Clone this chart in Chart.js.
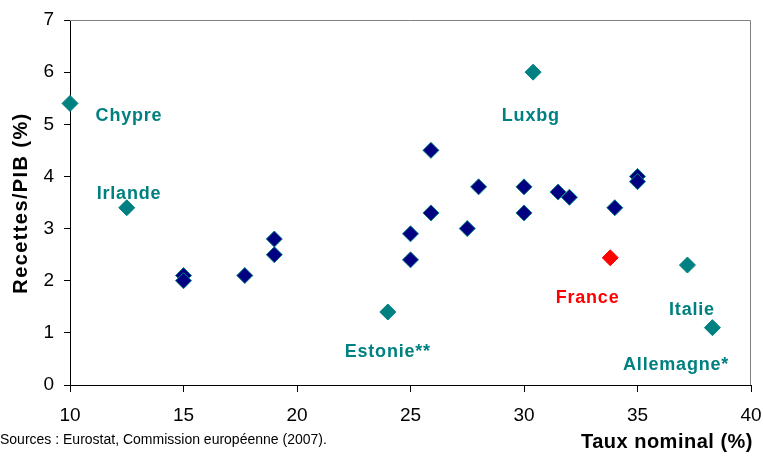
<!DOCTYPE html>
<html>
<head>
<meta charset="utf-8">
<script src="https://cdn.jsdelivr.net/npm/chart.js@4"></script>
<style>
  html, body { margin: 0; padding: 0; background: #fff; }
  #wrap { width: 763px; height: 458px; }
</style>
</head>
<body>
<div id="wrap"><canvas id="scatter" width="763" height="458"></canvas></div>
<script>
// EU countries (unlabelled), nominal rate vs receipts/GDP
var euX = [15, 15, 17.7, 19, 19, 25, 25, 25.9, 25.9, 27.5, 28, 30, 30, 31.5, 32, 34, 35, 35];
var euY = [2.1, 2.0, 2.1, 2.8, 2.5, 2.9, 2.4, 4.5, 3.3, 3.0, 3.8, 3.8, 3.3, 3.7, 3.6, 3.4, 4.0, 3.9];

// labelled countries
var namedCountries = ['Chypre', 'Irlande', 'Luxbg', 'Estonie**', 'Italie', 'Allemagne*'];
var namedX = [10, 12.5, 30.4, 24, 37.2, 38.3];
var namedY = [5.4, 3.4, 6.0, 1.4, 2.3, 1.1];
var namedLabelX = [12.6, 12.6, 30.3, 24.0, 37.4, 36.7];
var namedLabelY = [5.16, 3.67, 5.16, 0.63, 1.44, 0.38];

var franceX = 33.8, franceY = 2.44;
var franceLabelX = 32.8, franceLabelY = 1.67;

var xTicks = [10, 15, 20, 25, 30, 35, 40];
var yTicks = [0, 1, 2, 3, 4, 5, 6, 7];

var teal = '#008080';
var navy = '#000080';
var fontFam = '"Liberation Sans", Arial, sans-serif';

function pts(xs, ys) {
    return xs.map(function (x, i) { return { x: x, y: ys[i] }; });
}

const textPlugin = {
    id: 'texts',
    afterDraw(chart) {
        const ctx = chart.ctx;
        const a = chart.chartArea;
        const sx = chart.scales.x, sy = chart.scales.y;
        ctx.save();
        // top and right frame
        ctx.strokeStyle = '#808080';
        ctx.lineWidth = 1;
        ctx.beginPath();
        ctx.moveTo(a.left, a.top + 0.5);
        ctx.lineTo(a.right - 0.5, a.top + 0.5);
        ctx.lineTo(a.right - 0.5, a.bottom);
        ctx.stroke();

        ctx.textAlign = 'center';
        ctx.textBaseline = 'middle';
        ctx.font = 'bold 18px ' + fontFam;
        ctx.letterSpacing = '0.8px';
        ctx.fillStyle = teal;
        for (let i = 0; i < namedCountries.length; i++) {
            ctx.fillText(namedCountries[i], sx.getPixelForValue(namedLabelX[i]), sy.getPixelForValue(namedLabelY[i]));
        }
        ctx.fillStyle = '#ff0000';
        ctx.fillText('France', sx.getPixelForValue(franceLabelX), sy.getPixelForValue(franceLabelY));

        // axis titles
        ctx.fillStyle = '#000';
        ctx.font = 'bold 20px ' + fontFam;
        ctx.letterSpacing = '0.5px';
        ctx.textAlign = 'right';
        ctx.fillText('Taux nominal (%)', 753, 442);
        ctx.save();
        ctx.translate(21, 203);
        ctx.rotate(-Math.PI / 2);
        ctx.textAlign = 'center';
        ctx.letterSpacing = '1.4px';
        ctx.fillText('Recettes/PIB (%)', 0, 0);
        ctx.restore();

        ctx.letterSpacing = '0px';
        ctx.font = '14px ' + fontFam;
        ctx.textAlign = 'left';
        ctx.fillText('Sources : Eurostat, Commission européenne (2007).', 0, 440);
        ctx.restore();
    }
};

new Chart(document.getElementById('scatter'), {
    type: 'scatter',
    data: {
        datasets: [
            {
                label: 'UE',
                data: pts(euX, euY),
                pointStyle: 'rectRot',
                radius: 8,
                backgroundColor: navy,
                borderColor: teal,
                borderWidth: 1,
                clip: false,
            },
            {
                label: 'named',
                data: pts(namedX, namedY),
                pointStyle: 'rectRot',
                radius: 8,
                backgroundColor: teal,
                borderColor: teal,
                borderWidth: 1,
                clip: false,
            },
            {
                label: 'France',
                data: [{ x: franceX, y: franceY }],
                pointStyle: 'rectRot',
                radius: 8,
                backgroundColor: '#ff0000',
                borderColor: '#ff0000',
                borderWidth: 1,
                clip: false,
            },
        ]
    },
    options: {
        responsive: false,
        animation: false,
        layout: { padding: { top: 20, right: 12, left: 0, bottom: 0 } },
        plugins: {
            legend: { display: false },
            tooltip: { enabled: false },
        },
        scales: {
            x: {
                type: 'linear',
                min: 10,
                max: 40,
                afterBuildTicks: function (s) { s.ticks = xTicks.map(function (v) { return { value: v }; }); },
                afterFit: function (s) { s.height = 73; s.paddingLeft = 0; s.paddingRight = 0; },
                grid: { drawOnChartArea: false, color: '#000', tickLength: 7, tickColor: '#000' },
                border: { color: '#000', width: 1 },
                ticks: { color: '#000', padding: 12, maxRotation: 0, font: { family: fontFam, size: 19 } },
            },
            y: {
                type: 'linear',
                min: 0,
                max: 7,
                afterBuildTicks: function (s) { s.ticks = yTicks.map(function (v) { return { value: v }; }); },
                afterFit: function (s) { s.width = 70; s.paddingTop = 0; s.paddingBottom = 0; },
                grid: { drawOnChartArea: false, color: '#000', tickLength: 6, tickColor: '#000' },
                border: { color: '#000', width: 1 },
                ticks: { color: '#000', padding: 10, font: { family: fontFam, size: 19 } },
            },
        },
    },
    plugins: [textPlugin],
});
</script>
</body>
</html>
